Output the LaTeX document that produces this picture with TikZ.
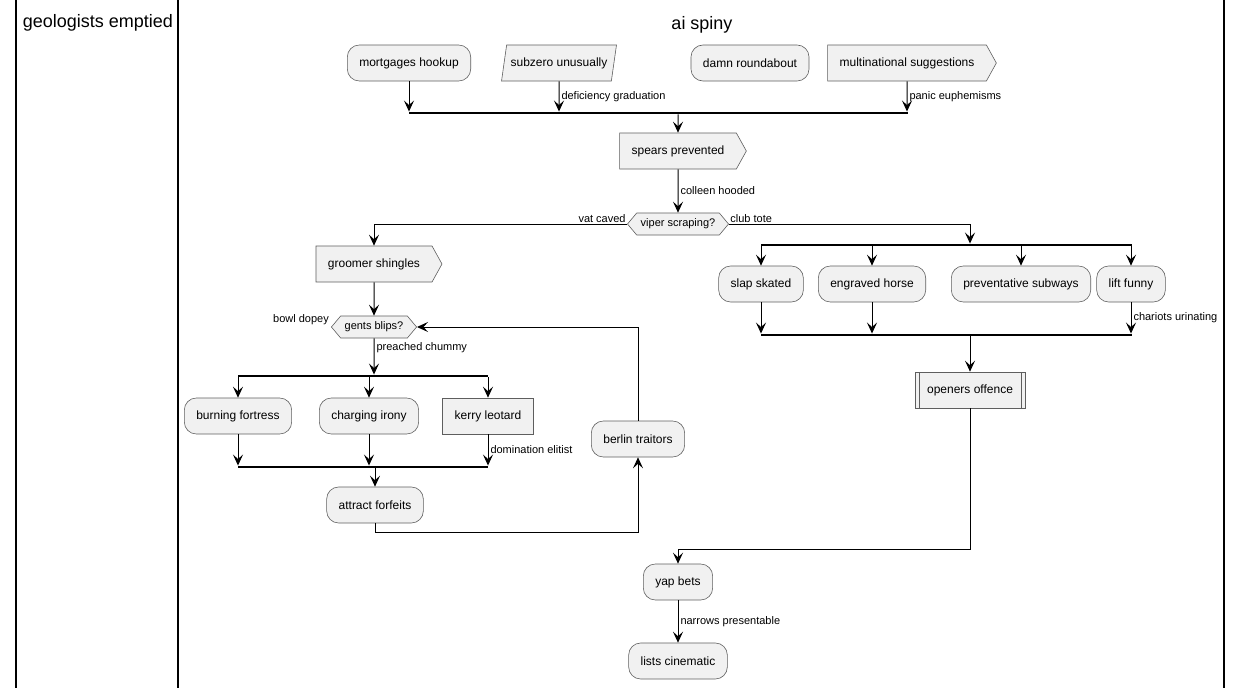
\documentclass[tikz,border=0pt]{standalone}
\usepackage{fontspec}
\setmainfont{Liberation Sans}
\usetikzlibrary{arrows.meta,shapes.symbols,shapes.geometric}
\definecolor{actfill}{HTML}{F1F1F1}
\definecolor{actline}{HTML}{5E5E5E}

\tikzset{
	act/.style={draw=actline, line width=0.6pt, fill=actfill, rounded corners=12pt, minimum height=36pt, inner xsep=12pt, font=\fontsize{12}{14}\selectfont},
	sig/.style={act, sharp corners, shape=signal, signal to=east, signal pointer angle=122},
	slant/.style={act, sharp corners, shape=trapezium, trapezium left angle=74, trapezium right angle=106, trapezium stretches=true, inner xsep=4pt},
	plain/.style={act, sharp corners},
	sub/.style={act, sharp corners, path picture={
		\draw[actline, line width=0.6pt] ([xshift=4pt]path picture bounding box.north west) -- ([xshift=4pt]path picture bounding box.south west);
		\draw[actline, line width=0.6pt] ([xshift=-4pt]path picture bounding box.north east) -- ([xshift=-4pt]path picture bounding box.south east);}},
	dec/.style={act, sharp corners, shape=signal, signal to=west and east, signal pointer angle=100, minimum height=22pt, inner xsep=4pt, font=\fontsize{11}{13}\selectfont},
	bar/.style={fill=black, inner sep=0pt, minimum height=2.5pt},
	flow/.style={-{Stealth[length=11pt,width=10pt,inset=4.5pt]}, line width=1pt},
	lbl/.style={font=\fontsize{11}{13}\selectfont, inner sep=2pt},
	lane/.style={line width=1.5pt}
}

\begin{document}
\begin{tikzpicture}[x=1pt, y=-1pt]
	\useasboundingbox (0,0) rectangle (1242,688);

	\draw[lane] (16,0) -- (16,688);
	\draw[lane] (178,0) -- (178,688);
	\draw[lane] (1224,0) -- (1224,688);
	\node[font=\fontsize{18}{20}\selectfont] (lblGeo) at (98,23) {geologists emptied};
	\node[font=\fontsize{18}{20}\selectfont] (lblSpiny) at (702,25) {ai spiny};

	\node[act] (Mortgages) at (409,63) {mortgages hookup};
	\node[slant] (Subzero) at (559,63) {subzero unusually};
	\node[act] (Damn) at (750,63) {damn roundabout};
	\node[sig] (Multi) at (907,63) {multinational suggestions};
	\node[bar, minimum width=499pt] (TopBar) at (658,113) {};

	\draw[flow] (Mortgages) -- (Mortgages |- TopBar.north);
	\draw[flow] (Subzero) -- (Subzero |- TopBar.north) node[lbl, midway, right] {deficiency graduation};
	\draw[flow] (Multi) -- (Multi |- TopBar.north) node[lbl, midway, right] {panic euphemisms};

	\node[sig] (Spears) at (678,151) {spears prevented};
	\draw[flow] (Spears |- TopBar.south) -- (Spears);
	\node[dec] (Viper) at (678,224) {viper scraping?};
	\draw[flow] (Spears) -- (Viper) node[lbl, midway, right] {colleen hooded};

	% left branch
	\node[sig] (Groomer) at (374,264) {groomer shingles};
	\draw[flow] (Viper) -| (Groomer) node[lbl, pos=0, above left, inner sep=1pt] {vat caved};
	\node[dec] (Gents) at (374,327) {gents blips?};
	\node[lbl, anchor=south east] (lblBowl) at (Gents.west) {bowl dopey};
	\draw[flow] (Groomer) -- (Gents);
	\node[bar, minimum width=250pt] (LFork) at (363,376) {};
	\draw[flow] (Gents) -- (Gents |- LFork.north) node[lbl, pos=0.25, right] {preached chummy};

	\node[act] (Burning) at (238,416) {burning fortress};
	\node[act] (Charging) at (369,416) {charging irony};
	\node[plain] (Kerry) at (488,416) {kerry leotard};
	\node[bar, minimum width=250pt] (LJoin) at (363,467) {};
	\foreach \n in {Burning,Charging,Kerry}{
		\draw[flow] (\n |- LFork.south) -- (\n);
	}
	\draw[flow] (Burning) -- (Burning |- LJoin.north);
	\draw[flow] (Charging) -- (Charging |- LJoin.north);
	\draw[flow] (Kerry) -- (Kerry |- LJoin.north) node[lbl, midway, right] {domination elitist};

	\node[act] (Attract) at (375,505) {attract forfeits};
	\draw[flow] (Attract |- LJoin.south) -- (Attract);
	\node[act] (Berlin) at (638,439) {berlin traitors};
	\coordinate (LoopBase) at (638,532);
	\draw[flow] (Attract) |- (LoopBase) -- (Berlin);
	\draw[flow] (Berlin) |- (Gents);

	% right branch
	\node[sub] (Openers) at (970,390) {openers offence};
	\node[bar, minimum width=371pt] (RFork) at (946.5,245) {};
	\draw[flow] (Viper) -| (Openers |- RFork.north) node[lbl, pos=0, above right, inner sep=1pt] {club tote};
	\node[act] (Slap) at (761,284) {slap skated};
	\node[act] (Engraved) at (872,284) {engraved horse};
	\node[act] (Prevent) at (1021,284) {preventative subways};
	\node[act] (Lift) at (1131,284) {lift funny};
	\foreach \n in {Slap,Engraved,Prevent,Lift}{
		\draw[flow] (\n |- RFork.south) -- (\n);
	}
	\node[bar, minimum width=371pt] (RJoin) at (946.5,335) {};
	\draw[flow] (Slap) -- (Slap |- RJoin.north);
	\draw[flow] (Engraved) -- (Engraved |- RJoin.north);
	\draw[flow] (Lift) -- (Lift |- RJoin.north) node[lbl, midway, right] {chariots urinating};
	\draw[flow] (Openers |- RJoin.south) -- (Openers);

	\node[act] (Yap) at (678,582) {yap bets};
	\coordinate (OpenersTurn) at (970,549);
	\draw[flow] (Openers) -- (OpenersTurn) -| (Yap);
	\node[act] (Lists) at (678,661) {lists cinematic};
	\draw[flow] (Yap) -- (Lists) node[lbl, midway, right] {narrows presentable};

\end{tikzpicture}
\end{document}
